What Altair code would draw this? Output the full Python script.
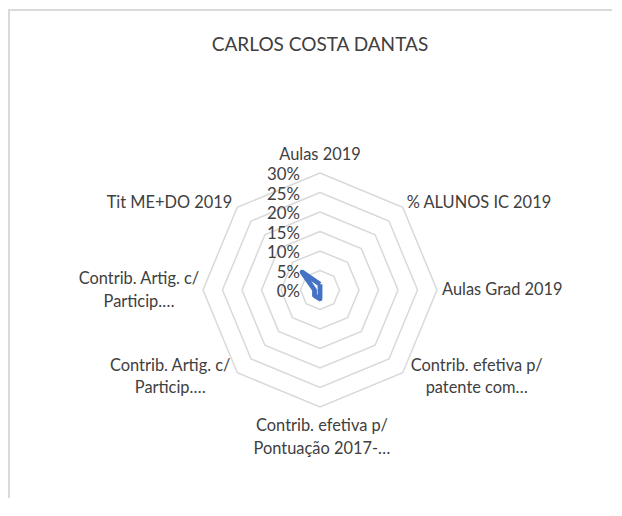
import altair as alt
import pandas as pd

TITLE = "CARLOS COSTA DANTAS"
CATEGORIES = [
    "Aulas 2019",
    "% ALUNOS IC 2019",
    "Aulas Grad 2019",
    "Contrib. efetiva p/\npatente com…",
    "Contrib. efetiva p/\nPontuação 2017-…",
    "Contrib. Artig. c/\nParticip.…",
    "Contrib. Artig. c/\nParticip.…",
    "Tit ME+DO 2019",
]
VALUES = [1.5, 0.0, 0.0, 0.0, 2.3, 2.0, 1.4, 6.5]  # percent
TICK_VALUES = [0, 5, 10, 15, 20, 25, 30]
TICK_LABELS = ["0%", "5%", "10%", "15%", "20%", "25%", "30%"]

N = len(CATEGORIES)
W, H = 604, 490
PX = 3.9  # pixels per percent
CX, CY = 312, 282
XS = alt.Scale(domain=[-CX / PX, (W - CX) / PX], nice=False, zero=False)
YS = alt.Scale(domain=[-(H - CY) / PX, CY / PX], nice=False, zero=False)

FONT = "Lato"
TXT = "#404040"
FS = 16.4

series_df = pd.DataFrame({"idx": list(range(N + 1)), "value": VALUES + [VALUES[0]]})
ring_df = pd.DataFrame(
    [{"level": lv, "idx": i, "value": lv} for lv in TICK_VALUES[1:] for i in range(N + 1)]
)
tick_df = pd.DataFrame({"value": TICK_VALUES, "label": TICK_LABELS})
label_df = pd.DataFrame({"idx": list(range(N)), "name": CATEGORIES, "value": [TICK_VALUES[-1]] * N})


def polar(ch):
    return ch.transform_calculate(
        ang=f"2*PI*datum.idx/{N}",
        px="datum.value*sin(datum.ang)",
        py="datum.value*cos(datum.ang)",
    )


X = alt.X("px:Q", scale=XS, axis=None)
Y = alt.Y("py:Q", scale=YS, axis=None)

rings = polar(alt.Chart(ring_df)).mark_line(color="#d9d9d9", strokeWidth=1.5).encode(
    x=X, y=Y, detail="level:N", order="idx:Q"
)

series = polar(alt.Chart(series_df)).mark_line(
    color="#4472C4", strokeWidth=4.8, strokeJoin="round"
).encode(x=X, y=Y, order="idx:Q")

ticks = alt.Chart(tick_df).transform_calculate(px="0", py="datum.value").mark_text(
    align="right", baseline="middle", dx=-20, dy=2, fontSize=16.8, font=FONT, color=TXT
).encode(x=X, y=Y, text="label:N")

# (align, dx, dy) for each category label, relative to the outer ring vertex
LABEL_STYLE = [
    ("center", 0, -18),
    ("left", 4, -4),
    ("left", 5, 0),
    ("center", 74, -7),
    ("center", 2, 19),
    ("center", -67, -7),
    ("center", -64, -11),
    ("right", -5, -4),
]
label_layers = []
for i, (al, dx, dy) in enumerate(LABEL_STYLE):
    label_layers.append(
        polar(alt.Chart(label_df).transform_filter(f"datum.idx == {i}")).mark_text(
            align=al, baseline="middle", dx=dx, dy=dy, fontSize=FS, font=FONT,
            color=TXT, lineBreak="\n", lineHeight=22.5,
        ).encode(x=X, y=Y, text="name:N")
    )

title = alt.Chart(pd.DataFrame({"t": [TITLE]})).mark_text(
    align="center", baseline="alphabetic", fontSize=19, font=FONT, color=TXT
).encode(x=alt.value(CX), y=alt.value(43), text="t:N")

one = pd.DataFrame({"a": [0]})
border_left = alt.Chart(one).mark_rule(color="#d9d9d9", strokeWidth=2).encode(
    x=alt.value(1), y=alt.value(2), y2=alt.value(H)
)
border_top = alt.Chart(one).mark_rule(color="#d9d9d9", strokeWidth=2).encode(
    x=alt.value(0), x2=alt.value(W), y=alt.value(2)
)

chart = alt.layer(
    border_left, border_top, rings, series, ticks, *label_layers, title
).properties(width=W, height=H, padding=0, autosize="none").configure_view(stroke="transparent")

chart.save("out.html", embed_options={"renderer": "svg", "actions": False})
